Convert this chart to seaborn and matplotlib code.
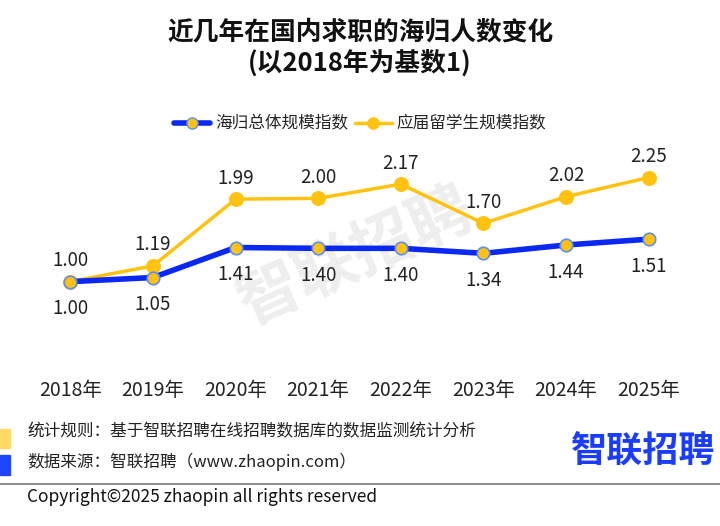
import matplotlib
matplotlib.use("Agg")
import matplotlib.pyplot as plt
import seaborn as sns
import pandas as pd
from matplotlib.patches import Rectangle
from matplotlib.lines import Line2D

# data
years = ["2018年", "2019年", "2020年", "2021年", "2022年", "2023年", "2024年", "2025年"]
total_index = [1.00, 1.05, 1.41, 1.40, 1.40, 1.34, 1.44, 1.51]
graduate_index = [1.00, 1.19, 1.99, 2.00, 2.17, 1.70, 2.02, 2.25]
series_names = ["海归总体规模指数", "应届留学生规模指数"]

BLUE = "#0a28f0"
YELLOW = "#ffc20e"

sns.set_theme(style="white")
plt.rcParams["font.family"] = ["Noto Sans CJK SC", "DejaVu Sans"]

df = pd.DataFrame({"x": range(len(years)), "total": total_index, "grad": graduate_index})

fig = plt.figure(figsize=(7.2, 5.26), dpi=100)
ax = fig.add_axes([29 / 720, (526 - 365) / 526, 661 / 720, 225 / 526])

# watermark
ax.text(3.45, 1.29, "智联招聘", fontsize=45, fontweight="bold", color="#eeeeee",
        rotation=24, ha="center", va="center", zorder=0)

sns.lineplot(data=df, x="x", y="grad", color=YELLOW, linewidth=2.5, marker="o",
             markersize=10, markeredgecolor=YELLOW, markerfacecolor=YELLOW, ax=ax, zorder=3)
sns.lineplot(data=df, x="x", y="total", color=BLUE, linewidth=4, marker="o",
             markersize=9, markeredgecolor="#5b8ff0", markeredgewidth=1.2,
             markerfacecolor=YELLOW, ax=ax, zorder=4)

for i, (t, g) in enumerate(zip(total_index, graduate_index)):
    ax.annotate(f"{g:.2f}", (i, g), xytext=(0, 21), textcoords="offset pixels",
                ha="center", va="center", fontsize=13.5, color="#222222")
    ax.annotate(f"{t:.2f}", (i, t), xytext=(0, -27), textcoords="offset pixels",
                ha="center", va="center", fontsize=13.5, color="#222222")

ax.set_xlim(-0.5, len(years) - 0.5)
ax.set_ylim(0, 2.7)
ax.set_xticks(range(len(years)))
ax.set_xticklabels(years, fontsize=14, color="#222222")
ax.tick_params(axis="x", length=0, pad=11)
ax.set_yticks([])
ax.set_xlabel("")
ax.set_ylabel("")
for s in ax.spines.values():
    s.set_visible(False)

# title
fig.text(0.5, 1 - 32 / 526, "近几年在国内求职的海归人数变化", ha="center", va="center",
         fontsize=18.5, fontweight="bold", color="#111111")
fig.text(0.5, 1 - 63 / 526, "(以2018年为基数1)", ha="center", va="center",
         fontsize=18.5, fontweight="bold", color="#111111")

# legend
handles = [
    Line2D([0], [0], color=BLUE, linewidth=4, marker="o", markersize=8,
           markerfacecolor=YELLOW, markeredgecolor="#5b8ff0"),
    Line2D([0], [0], color=YELLOW, linewidth=2.5, marker="o", markersize=8,
           markerfacecolor=YELLOW, markeredgecolor=YELLOW),
]
fig.legend(handles, series_names, loc="center", bbox_to_anchor=(0.5, 1 - 124 / 526),
           ncol=2, frameon=False, fontsize=12, handlelength=2.2, handletextpad=0.3,
           columnspacing=0.4)

# footer
fig.patches.append(Rectangle((0, 1 - 448 / 526), 10 / 720, 19 / 526, transform=fig.transFigure,
                             color="#ffd966", zorder=1))
fig.patches.append(Rectangle((0, 1 - 475 / 526), 10 / 720, 20 / 526, transform=fig.transFigure,
                             color="#1e46ff", zorder=1))
fig.text(27 / 720, 1 - 432 / 526, "统计规则：基于智联招聘在线招聘数据库的数据监测统计分析",
         ha="left", va="center", fontsize=12, color="#222222")
fig.text(27 / 720, 1 - 462 / 526, "数据来源：智联招聘（www.zhaopin.com）",
         ha="left", va="center", fontsize=12, color="#222222")
fig.text(715 / 720, 1 - 452 / 526, "智联招聘", ha="right", va="center",
         fontsize=26, fontweight="bold", color="#1a3cff")
fig.add_artist(Line2D([0, 1], [1 - 484 / 526] * 2, transform=fig.transFigure,
                      color="#777777", linewidth=1.2))
fig.text(27 / 720, 1 - 497 / 526, "Copyright©2025 zhaopin all rights reserved",
         ha="left", va="center", fontsize=12.5, color="#111111")

fig.savefig("out.png", dpi=100, facecolor="white")
